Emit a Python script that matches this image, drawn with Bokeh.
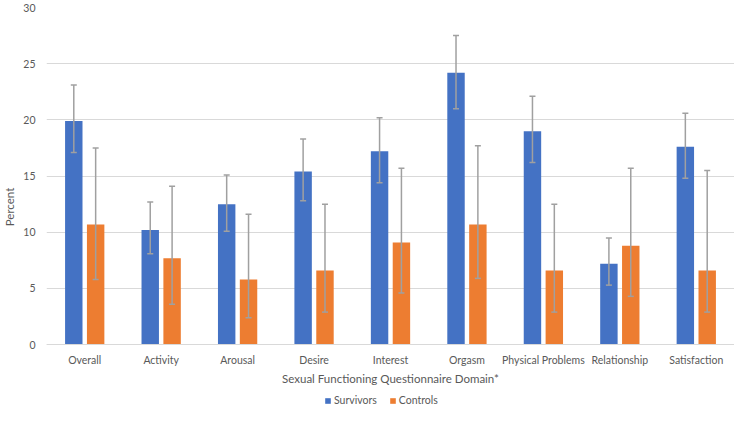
from bokeh.plotting import figure
from bokeh.models import ColumnDataSource, FactorRange, Whisker, Legend, LegendItem, TeeHead, Range1d, FixedTicker
from bokeh.transform import dodge
from bokeh.embed import file_html
from bokeh.resources import INLINE

categories = ["Overall", "Activity", "Arousal", "Desire", "Interest", "Orgasm",
              "Physical Problems", "Relationship", "Satisfaction"]
survivors = [19.9, 10.2, 12.5, 15.4, 17.2, 24.2, 19.0, 7.2, 17.6]
survivors_low = [17.1, 8.1, 10.1, 12.8, 14.4, 21.0, 16.2, 5.3, 14.8]
survivors_high = [23.1, 12.7, 15.1, 18.3, 20.2, 27.5, 22.1, 9.5, 20.6]
controls = [10.7, 7.7, 5.8, 6.6, 9.1, 10.7, 6.6, 8.8, 6.6]
controls_low = [5.8, 3.6, 2.4, 2.9, 4.6, 5.9, 2.9, 4.3, 2.9]
controls_high = [17.5, 14.1, 11.6, 12.5, 15.7, 17.7, 12.5, 15.7, 15.5]
y_ticks = [0, 5, 10, 15, 20, 25, 30]

src = ColumnDataSource(dict(cat=categories, s=survivors, sl=survivors_low, sh=survivors_high,
                            c=controls, cl=controls_low, ch=controls_high))

FONT = "Lato"
TXT = "#595959"
GRID = "#D9D9D9"
BLUE = "#4472C4"
ORANGE = "#ED7D31"
ERR = "#A0A0A0"

p = figure(x_range=FactorRange(*categories, range_padding=0), y_range=Range1d(-5.5, 30),
           width=734, height=406, output_backend="svg", toolbar_location=None,
           min_border_top=7, min_border_right=0, min_border_left=0, min_border_bottom=0)
p.outline_line_color = None
off = 0.143
w = 0.228
rs = p.vbar(x=dodge("cat", -off, range=p.x_range), top="s", width=w, source=src,
            fill_color=BLUE, line_color=None)
rc = p.vbar(x=dodge("cat", off, range=p.x_range), top="c", width=w, source=src,
            fill_color=ORANGE, line_color=None)

for xo, lo, hi in [(-off, "sl", "sh"), (off, "cl", "ch")]:
    wk = Whisker(base=dodge("cat", xo, range=p.x_range), lower=lo, upper=hi, source=src,
                 line_color=ERR, line_width=1.5, level="annotation",
                 upper_head=TeeHead(size=6, line_color=ERR, line_width=1.5),
                 lower_head=TeeHead(size=6, line_color=ERR, line_width=1.5))
    p.add_layout(wk)

p.xgrid.grid_line_color = None
p.ygrid.grid_line_color = GRID
p.ygrid.grid_line_width = 1
p.yaxis.ticker = FixedTicker(ticks=y_ticks)
p.yaxis.axis_line_color = None
p.yaxis.major_tick_line_color = None
p.yaxis.minor_tick_line_color = None
p.yaxis.major_label_standoff = 5
p.yaxis.axis_label = "Percent"
p.yaxis.axis_label_standoff = 4

p.xaxis.fixed_location = 0
p.xaxis.axis_line_color = GRID
p.xaxis.major_tick_line_color = None
p.xaxis.minor_tick_line_color = None
p.xaxis.major_label_standoff = 3
p.xaxis.axis_label = "Sexual Functioning Questionnaire Domain*"
p.xaxis.axis_label_standoff = 3

for ax in (p.xaxis, p.yaxis):
    ax.major_label_text_font = FONT
    ax.major_label_text_font_size = "10.5px"
    ax.major_label_text_color = TXT
    ax.axis_label_text_font = FONT
    ax.axis_label_text_font_size = "11.5px"
    ax.axis_label_text_font_style = "normal"
    ax.axis_label_text_color = TXT

legend = Legend(items=[LegendItem(label="Survivors", renderers=[rs]),
                       LegendItem(label="Controls", renderers=[rc])],
                orientation="horizontal", location=(278, 0),
                border_line_color=None, background_fill_alpha=0,
                label_text_font=FONT, label_text_font_size="10.5px", label_text_color=TXT,
                glyph_width=7, glyph_height=7, spacing=12, padding=2, margin=0,
                label_standoff=3, label_height=12)
p.add_layout(legend, "center")

open("out.html", "w").write(file_html(p, INLINE))
